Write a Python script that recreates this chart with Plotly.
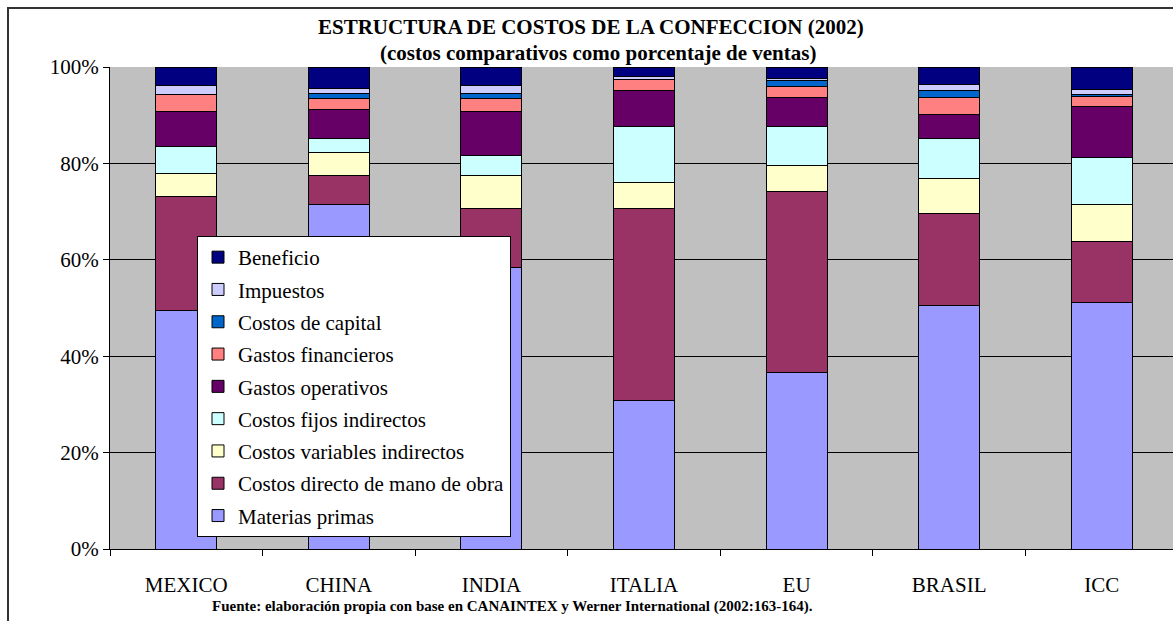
import plotly.graph_objects as go

# ---------------------------------------------------------------------------
# Data (percent of sales)
# ---------------------------------------------------------------------------
countries = ["MEXICO", "CHINA", "INDIA", "ITALIA", "EU", "BRASIL", "ICC"]

materias_primas = [49.4, 71.4, 58.3, 30.8, 36.7, 50.5, 51.2]
mano_de_obra = [23.7, 6.1, 12.4, 39.9, 37.5, 19.2, 12.5]
variables_indirectos = [4.8, 4.7, 6.7, 5.3, 5.3, 7.1, 7.7]
fijos_indirectos = [5.6, 2.9, 4.2, 11.7, 8.1, 8.3, 9.8]
gastos_operativos = [7.2, 6.1, 9.1, 7.5, 6.1, 5.1, 10.7]
gastos_financieros = [3.6, 2.2, 2.7, 2.3, 2.2, 3.5, 1.9]
costos_capital = [0.0, 1.1, 1.1, 0.0, 1.3, 1.5, 0.5]
impuestos = [1.9, 1.1, 1.6, 0.5, 0.5, 1.2, 1.1]
beneficio = [3.8, 4.4, 3.9, 2.0, 2.3, 3.6, 4.6]

series_names = [
    "Materias primas",
    "Costos directo de mano de obra",
    "Costos variables indirectos",
    "Costos fijos indirectos",
    "Gastos operativos",
    "Gastos financieros",
    "Costos de capital",
    "Impuestos",
    "Beneficio",
]
series_values = [
    materias_primas, mano_de_obra, variables_indirectos, fijos_indirectos,
    gastos_operativos, gastos_financieros, costos_capital, impuestos, beneficio,
]
series_colors = [
    "#9999FF", "#993366", "#FFFFCC", "#CCFFFF", "#660066",
    "#FF8080", "#0066CC", "#CCCCFF", "#000080",
]

y_ticks = [0, 20, 40, 60, 80, 100]
y_tick_labels = ["0%", "20%", "40%", "60%", "80%", "100%"]

SERIF = "Liberation Serif, Times New Roman, serif"

# ---------------------------------------------------------------------------
# Figure
# ---------------------------------------------------------------------------
fig = go.Figure()
for i, (name, vals, color) in enumerate(zip(series_names, series_values, series_colors)):
    fig.add_trace(go.Bar(
        x=countries,
        y=vals,
        name=name,
        legendgroup=name,
        legendrank=1000 - i,  # top of the stack first in the legend
        marker=dict(color=color, line=dict(color="#000000", width=1)),
    ))

W, H = 1173, 621
L, R, T, B = 110, 0, 67, 72
plot_w = W - L - R
plot_h = H - T - B


def px_x(px):
    return (px - L) / plot_w


def px_y(py):
    return (H - B - py) / plot_h


fig.update_layout(
    width=W,
    height=H,
    margin=dict(l=L, r=R, t=T, b=B, autoexpand=False),
    barmode="stack",
    bargap=0.6,
    paper_bgcolor="white",
    plot_bgcolor="#C0C0C0",
    font=dict(family=SERIF, size=21, color="#000000"),
    showlegend=True,
    legend=dict(
        x=px_x(197), y=px_y(236), xanchor="left", yanchor="top",
        bgcolor="white", bordercolor="#000000", borderwidth=1,
        traceorder="grouped", tracegroupgap=2,
        font=dict(family=SERIF, size=21, color="#000000"),
        itemclick=False,
    ),
    xaxis=dict(
        range=[-0.5, -0.5 + 7 * plot_w / 1068],
        showgrid=False,
        showline=True, linecolor="#000000", linewidth=1,
        ticks="outside", tickson="boundaries", ticklen=6, tickcolor="#000000",
        ticklabelstandoff=17,
        tickfont=dict(family=SERIF, size=21),
        zeroline=False,
    ),
    yaxis=dict(
        range=[0, 100],
        tickvals=y_ticks, ticktext=y_tick_labels,
        showgrid=True, gridcolor="#000000", gridwidth=1,
        showline=True, linecolor="#000000", linewidth=1,
        ticks="outside", ticklen=6, tickcolor="#000000",
        tickfont=dict(family=SERIF, size=21),
        zeroline=False,
    ),
    annotations=[
        dict(text="<b>ESTRUCTURA DE COSTOS DE LA CONFECCION (2002)</b>",
             xref="paper", yref="paper", x=px_x(591), y=px_y(27),
             xanchor="center", yanchor="middle", showarrow=False,
             font=dict(family=SERIF, size=21)),
        dict(text="<b>(costos comparativos como porcentaje de ventas)</b>",
             xref="paper", yref="paper", x=px_x(598), y=px_y(53),
             xanchor="center", yanchor="middle", showarrow=False,
             font=dict(family=SERIF, size=21)),
        dict(text="<b>Fuente: elaboración propia con base en CANAINTEX y Werner International (2002:163-164).</b>",
             xref="paper", yref="paper", x=px_x(512), y=px_y(606),
             xanchor="center", yanchor="middle", showarrow=False,
             font=dict(family=SERIF, size=15)),
    ],
    shapes=[
        # outer chart-area frame (only its top and left edges fall inside the page)
        dict(type="rect", xref="paper", yref="paper", layer="above",
             x0=px_x(8), x1=px_x(1300), y0=px_y(700), y1=px_y(8),
             line=dict(color="#333333", width=2), fillcolor="rgba(0,0,0,0)"),
    ],
)

# drop the page's default body margin so the figure sits at (0, 0)
fig.write_html(
    "out.html",
    config={"displayModeBar": False},
    post_script="document.body.style.margin = '0';",
)
